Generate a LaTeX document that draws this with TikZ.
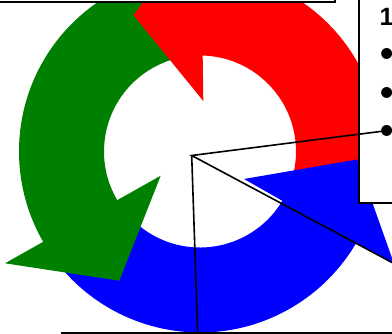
\documentclass[tikz,border=0pt]{standalone}
\usepackage{fontspec}
\setmainfont{Liberation Sans}
\definecolor{arrgreen}{RGB}{0,128,0}
\definecolor{arrred}{RGB}{255,0,0}
\definecolor{arrblue}{RGB}{0,0,255}
\tikzset{
  callout/.style={draw=black,line width=1.6pt},
  boxframe/.style={draw=black,fill=white,line width=2pt},
  boxtext/.style={inner sep=0pt},
}
\newcommand{\bigbold}{\fontsize{25}{30}\selectfont\bfseries}
\newcommand{\bulletsize}{\fontsize{38}{38}\selectfont\bfseries}
\begin{document}
\begin{tikzpicture}[x=1pt,y=1pt]
\useasboundingbox (0,0) rectangle (392,-334);
\clip (0,0) rectangle (392,-334);
\coordinate (C) at (200,-151.5);
% arrow bodies (each runs a little under its own head)
\begin{scope}[shift={(C)}]
  \fill[arrgreen] (90:181) arc[start angle=90,end angle=212,radius=181]
     -- (212:96) arc[start angle=212,end angle=90,radius=96] -- cycle;
  \fill[arrblue] (212:181) arc[start angle=212,end angle=332,radius=181]
     -- (332:96) arc[start angle=332,end angle=212,radius=96] -- cycle;
  \fill[arrred] (332:181) arc[start angle=332,end angle=452,radius=181]
     -- (452:96) arc[start angle=452,end angle=332,radius=96] -- cycle;
\end{scope}
% arrow heads
\fill[arrgreen] (5,-263.3) -- (119.3,-280.7) -- (160.7,-175.7) -- cycle;
\fill[arrblue] (394.3,-264.5) -- (357,-159.5) -- (244,-179) -- cycle;
\fill[arrred] (201,73) -- (133.3,-15) -- (203.3,-101) -- cycle;
% boxes
\draw[boxframe] (-10,20) rectangle (335,-2);
\draw[boxframe] (359,20) rectangle (420,-203);
\draw[boxframe] (62,-333) rectangle (420,-360);
% texts
\node[boxtext,anchor=base west] (t1) at (379.5,-26) {\bigbold 1};
\node[boxtext,anchor=center] (b1) at (387,-58) {\bulletsize •};
\node[boxtext,anchor=center] (b2) at (387,-97) {\bulletsize •};
\node[boxtext,anchor=center] (b3) at (387,-135) {\bulletsize •};
% callout lines
\coordinate (v) at (191.7,-155.5);
\coordinate (e1) at (392,-130);
\coordinate (e2) at (392,-262.5);
\coordinate (e3) at (197.7,-333);
\draw[callout] (e1) -- (v) -- (e2);
\draw[callout] (v) -- (e3);
\end{tikzpicture}
\end{document}
